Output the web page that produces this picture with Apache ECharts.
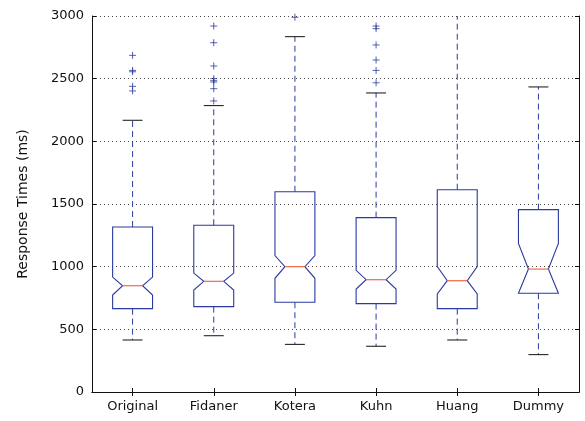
<!DOCTYPE html>
<html>
<head>
<meta charset="utf-8">
<script src="https://cdn.jsdelivr.net/npm/echarts@6/dist/echarts.min.js"></script>
<style>html,body{margin:0;padding:0;background:#fff;}#main{width:585px;height:421px;}</style>
</head>
<body>
<div id="main"></div>
<script>
var categories = ['Original', 'Fidaner', 'Kotera', 'Kuhn', 'Huang', 'Dummy'];
var whiskerLow  = [415, 449, 380, 365, 415, 298];
var q1          = [665, 681, 716, 705, 665, 788];
var notchLow    = [774, 814, 907, 822, 782, 788];
var median      = [848, 883, 1000, 896, 888, 981];
var notchHigh   = [917, 949, 1088, 971, 1000, 1186];
var q3          = [1316, 1330, 1598, 1391, 1614, 1455];
var whiskerHigh = [2168, 2285, 2835, 2386, 3100, 2434];
var outliers = [
  [2686, 2566, 2555, 2439, 2402],
  [2920, 2787, 2601, 2500, 2484, 2473, 2420, 2322],
  [2990],
  [2920, 2899, 2769, 2649, 2566, 2467],
  [],
  []
];
var yTicks = [0, 500, 1000, 1500, 2000, 2500, 3000];

var BLUE = '#2b3a9e';
var RED = '#f26a4a';
var FONT = 'DejaVu Sans';

var boxData = categories.map(function (c, i) {
  return [i, whiskerLow[i], q1[i], notchLow[i], median[i], notchHigh[i], q3[i], whiskerHigh[i]];
});
var outlierData = [];
outliers.forEach(function (arr, i) {
  arr.forEach(function (v) { outlierData.push([i, v]); });
});

function renderBox(params, api) {
  var i = api.value(0);
  var x = api.coord([i, 0])[0];
  var bw = api.size([1, 0])[0];
  var hw = bw * 0.246;
  var nw = hw * 0.5;
  var cw = hw * 0.5;
  function Y(k) { return api.coord([i, api.value(k)])[1]; }
  var yWl = Y(1), yQ1 = Y(2), yNl = Y(3), yMed = Y(4), yNh = Y(5), yQ3 = Y(6), yWh = Y(7);
  var L = x - hw, R = x + hw;
  var pts = [[L, yQ1], [R, yQ1], [R, yNl], [x + nw, yMed], [R, yNh], [R, yQ3],
             [L, yQ3], [L, yNh], [x - nw, yMed], [L, yNl]];
  var dash = { stroke: BLUE, lineWidth: 1, lineDash: [6, 4] };
  return {
    type: 'group',
    children: [
      { type: 'line', shape: { x1: x, y1: yQ1, x2: x, y2: yWl }, style: dash },
      { type: 'line', shape: { x1: x, y1: yQ3, x2: x, y2: yWh }, style: dash },
      { type: 'line', shape: { x1: x - cw, y1: yWl, x2: x + cw, y2: yWl }, style: { stroke: '#111', lineWidth: 1 } },
      { type: 'line', shape: { x1: x - cw, y1: yWh, x2: x + cw, y2: yWh }, style: { stroke: '#111', lineWidth: 1 } },
      { type: 'polygon', shape: { points: pts }, style: { fill: 'none', stroke: BLUE, lineWidth: 1.1 } },
      { type: 'line', shape: { x1: x - nw, y1: yMed, x2: x + nw, y2: yMed }, style: { stroke: RED, lineWidth: 1.2 } }
    ]
  };
}

var chart = echarts.init(document.getElementById('main'), null, { renderer: 'canvas' });
chart.setOption({
  animation: false,
  backgroundColor: '#fff',
  grid: { left: 92, right: 6, top: 16, bottom: 29 },
  xAxis: [{
    type: 'category',
    data: categories,
    boundaryGap: true,
    axisLine: { show: true, lineStyle: { color: '#111', width: 1 } },
    axisTick: { show: true, inside: true, alignWithLabel: true, length: 4, lineStyle: { color: '#111' } },
    axisLabel: { color: '#111', fontFamily: FONT, fontSize: 13, margin: 8 },
    splitLine: { show: false }
  }, {
    type: 'category',
    data: categories,
    position: 'top',
    boundaryGap: true,
    axisLine: { show: true, lineStyle: { color: '#111', width: 1 } },
    axisTick: { show: true, inside: true, alignWithLabel: true, length: 4, lineStyle: { color: '#111' } },
    axisLabel: { show: false },
    splitLine: { show: false }
  }],
  yAxis: [{
    type: 'value',
    min: yTicks[0],
    max: yTicks[yTicks.length - 1],
    interval: 500,
    name: 'Response Times (ms)',
    nameLocation: 'middle',
    nameGap: 62,
    nameTextStyle: { color: '#111', fontFamily: FONT, fontSize: 14 },
    axisLine: { show: true, lineStyle: { color: '#111', width: 1 } },
    axisTick: { show: true, inside: true, length: 4, lineStyle: { color: '#111' } },
    axisLabel: { color: '#111', fontFamily: FONT, fontSize: 13, margin: 8, formatter: function (v) { return String(v); } },
    splitLine: { show: true, lineStyle: { color: '#444', type: [1, 3], width: 1 } }
  }, {
    type: 'value',
    position: 'right',
    min: yTicks[0],
    max: yTicks[yTicks.length - 1],
    interval: 500,
    axisLine: { show: true, lineStyle: { color: '#111', width: 1 } },
    axisTick: { show: true, inside: true, length: 4, lineStyle: { color: '#111' } },
    axisLabel: { show: false },
    splitLine: { show: false }
  }],
  series: [{
    type: 'custom',
    renderItem: renderBox,
    data: boxData,
    clip: true,
    encode: { x: 0, y: [1, 7] },
    z: 3
  }, {
    type: 'scatter',
    data: outlierData,
    symbol: 'path://M5,0L5,10M0,5L10,5',
    symbolSize: 7,
    itemStyle: { color: 'none', borderColor: BLUE, borderWidth: 1 },
    clip: true,
    z: 4
  }]
});
</script>
</body>
</html>
